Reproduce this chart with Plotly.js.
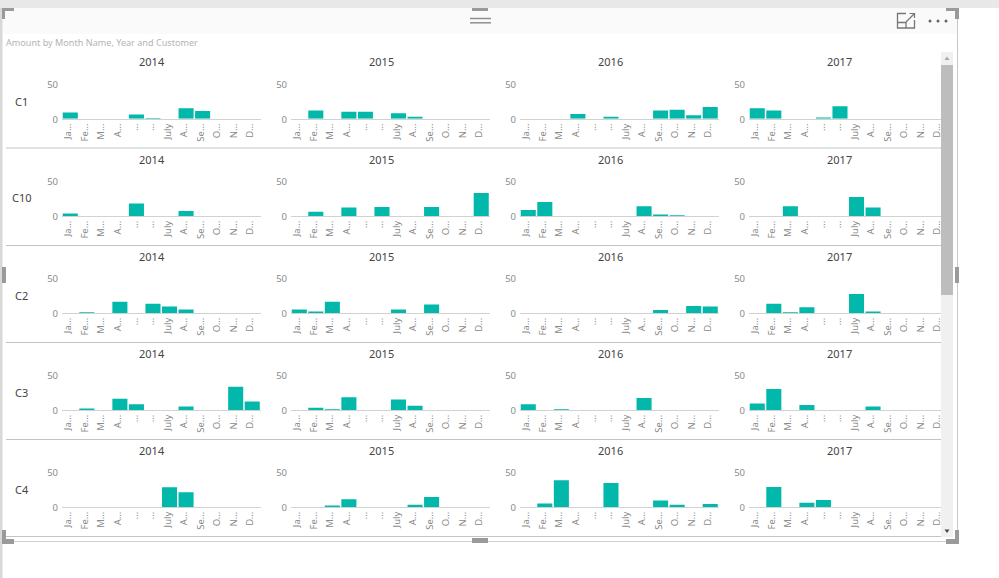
<!DOCTYPE html>
<html>
<head>
<meta charset="utf-8">
<script src="https://cdn.plot.ly/plotly-3.0.1.min.js"></script>
<style>html,body{margin:0;padding:0;background:#fff;overflow:hidden}#chart{width:999px;height:578px}</style>
</head>
<body>
<div id="chart"></div>
<script>
var months = ['Ja…','Fe…','M…','A…','…','…','July','A…','Se…','O…','N…','D…'];
var years = ['2014','2015','2016','2017'];
var customers = ['C1','C10','C2','C3','C4'];
var chartTitle = 'Amount by Month Name, Year and Customer';

var c1_2014 = [9,0,0,0,6,1,0,15,11,0,0,0];
var c1_2015 = [0,12,0,10,10,0,8,3,0,0,0,0];
var c1_2016 = [0,0,0,7,0,3,0,0,12,13,5,17];
var c1_2017 = [15,12,0,0,2,18,0,0,0,0,0,0];

var c10_2014 = [3.5,0,0,0,18,0,0,7,0,0,0,0];
var c10_2015 = [0,6,0,12,0,13,0,0,13,0,0,33];
var c10_2016 = [8.5,20,0,0,0,0,0,14,2,1,0,0];
var c10_2017 = [0,0,14,0,0,0,27,12,0,0,0,0];

var c2_2014 = [0,1,0,16,0,13,9,5,0,0,0,0];
var c2_2015 = [5,2,16,0,0,0,5,0,12,0,0,0];
var c2_2016 = [0,0,0,0,0,0,0,0,4,0,10,9];
var c2_2017 = [0,13,1,8,0,0,27,2,0,0,0,0];

var c3_2014 = [0,2,0,16,8,0,0,5,0,0,33,12];
var c3_2015 = [0,3,1,18,0,0,15,6,0,0,0,0];
var c3_2016 = [8,0,1,0,0,0,0,17,0,0,0,0];
var c3_2017 = [9,30,0,7,0,0,0,5,0,0,0,0];

var c4_2014 = [0,0,0,0,0,0,28,21,0,0,0,0];
var c4_2015 = [0,0,2,11,0,0,0,3,14,0,0,0];
var c4_2016 = [0,5,38,0,0,34,0,0,9,3,0,4];
var c4_2017 = [0,28.5,0,6,10,0,0,0,0,0,0,0];

var values = [
  [c1_2014,c1_2015,c1_2016,c1_2017],
  [c10_2014,c10_2015,c10_2016,c10_2017],
  [c2_2014,c2_2015,c2_2016,c2_2017],
  [c3_2014,c3_2015,c3_2016,c3_2017],
  [c4_2014,c4_2015,c4_2016,c4_2017]
];

var W = 999, H = 578;
function fx(x){return x/W;}
function fy(y){return 1-y/H;}

var colLeft = [62,291,520,749], colWidth = 198.5;
var rowTop = [83.8,181,277.9,374.9,471.9], rowHeight = 35;
var rowTitleY = [61.5,159.5,256.5,353.5,450.5];
var rowLabelY = [101.5,198,295.5,392.5,489.5];
var sepY = [148,245.5,342.5,439.5,536.5];

var FONT = '"Noto Sans", "Open Sans", sans-serif';
var BAR = '#01B8AA', GRID = '#d2d2d2';

var data = [], annotations = [], shapes = [];
var layout = {
  width:W, height:H, margin:{l:0,r:0,t:0,b:0,pad:0},
  paper_bgcolor:'#ffffff', plot_bgcolor:'rgba(0,0,0,0)',
  showlegend:false, bargap:0.09, font:{family:FONT}
};

var idx = 0;
values.forEach(function(row,r){
  row.forEach(function(series,c){
    idx++;
    var sfx = idx===1?'':String(idx);
    data.push({type:'bar', x:months.map(function(m,i){return i;}), y:series,
      xaxis:'x'+sfx, yaxis:'y'+sfx, marker:{color:BAR,line:{width:0}},
      hovertemplate:customers[r]+' '+years[c]+'<br>%{y}<extra></extra>'});
    layout['xaxis'+sfx] = {
      domain:[fx(colLeft[c]),fx(colLeft[c]+colWidth)], anchor:'y'+sfx,
      range:[-0.5,11.5], tickmode:'array', tickvals:months.map(function(m,i){return i;}), ticktext:months,
      tickangle:-90, tickfont:{size:9.5,color:'#8a8a8a',family:FONT}, ticklabelshift:-2,
      showgrid:false, zeroline:false, showline:true, linecolor:GRID, linewidth:1,
      ticks:'', ticklen:0, automargin:false, fixedrange:true
    };
    layout['yaxis'+sfx] = {
      domain:[fy(rowTop[r]+rowHeight),fy(rowTop[r])], anchor:'x'+sfx,
      range:[0,50], tickmode:'array', tickvals:[0,50], ticktext:['0','50'],
      tickfont:{size:9.5,color:'#8a8a8a',family:FONT}, ticklabelstandoff:3, ticklabelshift:1,
      showgrid:true, gridcolor:GRID, gridwidth:1, zeroline:false, showline:false,
      ticks:'', automargin:false, fixedrange:true
    };
    annotations.push({xref:'paper',yref:'paper',x:fx(colLeft[c]+90),y:fy(rowTitleY[r]),
      text:years[c],showarrow:false,xanchor:'center',yanchor:'middle',
      font:{size:11,color:'#444444',family:FONT}});
  });
  annotations.push({xref:'paper',yref:'paper',x:fx(21.5),y:fy(rowLabelY[r]),
    text:customers[r],showarrow:false,xanchor:'center',yanchor:'middle',
    font:{size:11,color:'#444444',family:FONT}});
});
annotations.push({xref:'paper',yref:'paper',x:fx(4),y:fy(42),text:chartTitle,showarrow:false,
  xanchor:'left',yanchor:'middle',font:{size:9.1,color:'#b4b4b4',family:FONT}});

function rect(x0,y0,x1,y1,color){
  shapes.push({type:'rect',xref:'paper',yref:'paper',x0:fx(x0),x1:fx(x1),y0:fy(y0),y1:fy(y1),
    fillcolor:color,line:{width:0},layer:'above'});
}
function hline(x0,x1,y,color,w){
  shapes.push({type:'line',xref:'paper',yref:'paper',x0:fx(x0),x1:fx(x1),y0:fy(y),y1:fy(y),
    line:{color:color,width:w||1},layer:'above'});
}
function path(pts,close,fill,color,w){
  var d = pts.map(function(p,i){return (i?'L':'M')+fx(p[0])+','+fy(p[1]);}).join(' ')+(close?' Z':'');
  shapes.push({type:'path',xref:'paper',yref:'paper',path:d,fillcolor:fill||'rgba(0,0,0,0)',
    line:{color:color||'rgba(0,0,0,0)',width:w||0},layer:'above'});
}

// window frame and header
rect(0,0,999,8,'#e8e8e8');
rect(3,8,957,34,'#fafafa');
rect(0,8,2.5,578,'#d8d8d8');
rect(957,8,958,541,'#c8c8c8');
sepY.forEach(function(y){hline(6,941,y,'#c4c4c4',1);});
hline(6,957,541.5,'#cfcfcf',1);

// scrollbar
rect(941,52,953,537,'#f0f0f0');
rect(941,65,953,295,'#bdbdbd');
path([[944.5,60],[947,56.5],[949.5,60]],true,'#a8a8a8');
path([[944.5,529.5],[949.5,529.5],[947,533]],true,'#444444');

// selection handles
var H_C = '#9a9a9a';
rect(2,8,14,11,H_C); rect(2,8,5,19,H_C);
rect(946,8,959,11,H_C); rect(955,8,959,19,H_C);
rect(2,530,6,544,H_C); rect(2,539,14,544,H_C);
rect(946,539,959,544,H_C); rect(955,530,959,544,H_C);
rect(472,8,488,11,H_C); rect(472,538,488,543,H_C);
rect(2,267,6,283,H_C); rect(955,267,959,283,H_C);

// header icons
hline(470,491,18.5,'#8f8f8f',1.5);
hline(470,491,22.8,'#8f8f8f',1.5);
path([[914.5,20],[914.5,28],[897.5,28],[897.5,13.5],[906,13.5]],false,null,'#777777',1.3);
path([[897.5,22.5],[906,22.5],[906,28]],false,null,'#777777',1.3);
path([[906,22],[914.5,13.5]],false,null,'#777777',1.2);
path([[909.5,13.5],[914.5,13.5],[914.5,18]],false,null,'#777777',1.2);
[930,938,946].forEach(function(x){
  shapes.push({type:'circle',xref:'paper',yref:'paper',x0:fx(x-1.5),x1:fx(x+1.5),y0:fy(22.5),y1:fy(19.5),
    fillcolor:'#666666',line:{width:0},layer:'above'});
});

layout.annotations = annotations;
layout.shapes = shapes;
Plotly.newPlot('chart',data,layout,{displayModeBar:false,staticPlot:true});
</script>
</body>
</html>
